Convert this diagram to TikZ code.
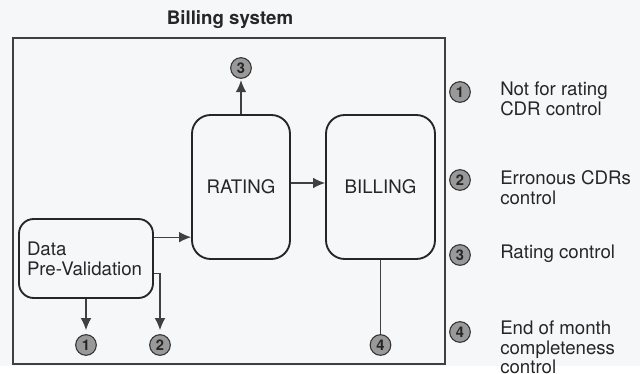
\documentclass[tikz,border=0pt]{standalone}
\usepackage{fontspec}
\setmainfont{TeX Gyre Heros}
\usepackage{xcolor}
\usetikzlibrary{arrows.meta}
\definecolor{paper}{RGB}{246,247,249}

\begin{document}
\begin{tikzpicture}[x=0.75pt,y=-0.75pt,>={Latex[length=9pt,width=8pt]},
    stage/.style={draw=black!85,line width=1.4pt,rounded corners=14pt,
        text=black!85,font=\fontsize{14}{15}\selectfont},
    ctrl/.style={circle,draw=black!80,fill=black!40,line width=0.8pt,
        inner sep=0pt,minimum size=15.5pt,text=black!85,
        font=\fontsize{11}{11}\selectfont\bfseries},
    legtext/.style={anchor=north west,inner sep=0pt,align=left,
        text=black!85,font=\fontsize{14}{15}\selectfont},
    flow/.style={->,draw=black!75,line width=0.9pt}]
    % page and the system frame
    \fill[paper] (0,0) rectangle (640,366);
    \node[font=\fontsize{14}{15}\selectfont\bfseries,text=black!85] (title) at (230,20) {Billing system};
    \node[draw=black!75,line width=1pt,minimum width=324pt,minimum height=244.5pt] (system) at (229,201) {};

    % processing stages
    \node[stage,rounded corners=11pt,minimum width=100.5pt,minimum height=59.25pt,
        text width=88.5pt,align=left,inner sep=6pt] (pre) at (86,258.5) {Data\\Pre-Validation};
    \node[stage,minimum width=73.5pt,minimum height=108pt] (rating) at (241,187) {RATING};
    \node[stage,minimum width=81.75pt,minimum height=108pt] (billing) at (380.5,187) {BILLING};

    % control points
    \node[ctrl] (c1) at (86,345) {1};
    \node[ctrl] (c2) at (160,345) {2};
    \node[ctrl] (c3) at (241,68) {3};
    \node[ctrl] (c4) at (380.5,345) {4};

    \draw[flow] ([yshift=16pt]pre.east) -- ([yshift=16pt]pre.east -| rating.west);
    \draw[flow] ([yshift=3pt]rating.east) -- ([yshift=3pt]billing.west);
    \draw[flow,shorten >=1pt] (rating.north) -- (c3.south);
    \draw[flow,shorten >=3pt] (pre.south) -- (c1.north);
    \draw[flow,shorten >=3pt] ([yshift=-11pt]pre.east) -| (c2.north);
    \draw[draw=black!75,line width=0.9pt] (billing.south) -- (c4.north);

    % legend
    \node[ctrl] (k1) at (460,92) {1};
    \node[ctrl] (k2) at (460,180) {2};
    \node[ctrl] (k3) at (460,255) {3};
    \node[ctrl] (k4) at (460,332) {4};
    \node[legtext] (t1) at (500,82) {Not for rating\\CDR control};
    \node[legtext] (t2) at (500,170) {Erronous CDRs\\control};
    \node[legtext] (t3) at (500,245) {Rating control};
    \node[legtext,font=\fontsize{14}{14.5}\selectfont] (t4) at (500,321) {End of month\\completeness\\control};
    \useasboundingbox (0,0) rectangle (640,366);
\end{tikzpicture}
\end{document}
